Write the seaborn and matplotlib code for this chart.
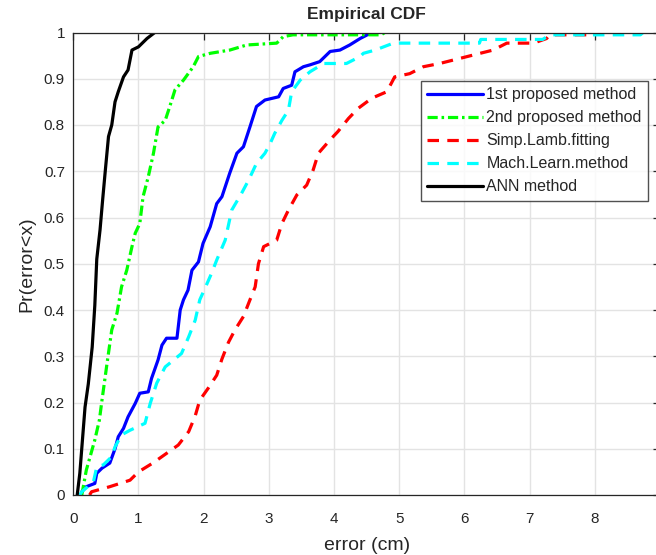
import numpy as np
import pandas as pd
import matplotlib
matplotlib.use("Agg")
import matplotlib.pyplot as plt
import seaborn as sns

# ---------------- data ----------------
ann_x = [0.06, 0.10, 0.18, 0.23, 0.29, 0.33, 0.36, 0.41, 0.45, 0.49, 0.54, 0.59,
         0.64, 0.69, 0.77, 0.84, 0.90, 1.00, 1.13, 1.25]
ann_p = [0.0, 0.047, 0.19, 0.24, 0.32, 0.41, 0.51, 0.573, 0.638, 0.70, 0.775, 0.80,
         0.85, 0.872, 0.904, 0.919, 0.962, 0.969, 0.987, 1.0]

m2_x = [0.13, 0.20, 0.33, 0.40, 0.44, 0.51, 0.59, 0.67, 0.74, 0.82, 0.90, 0.95,
        1.02, 1.07, 1.15, 1.23, 1.30, 1.41, 1.48, 1.56, 1.69, 1.84, 1.92, 2.10,
        2.40, 2.66, 3.12, 3.22, 3.37, 4.72, 4.78]
m2_p = [0.0, 0.054, 0.119, 0.162, 0.205, 0.277, 0.357, 0.393, 0.45, 0.486, 0.537, 0.566,
        0.587, 0.645, 0.688, 0.739, 0.796, 0.81, 0.84, 0.876, 0.897, 0.926, 0.948, 0.955,
        0.962, 0.973, 0.977, 0.991, 0.995, 0.995, 1.0]

m1_x = [0.12, 0.13, 0.20, 0.33, 0.36, 0.44, 0.56, 0.64, 0.69, 0.77, 0.84, 0.95, 1.02,
        1.15, 1.20, 1.30, 1.36, 1.43, 1.59, 1.64, 1.69, 1.76, 1.82, 1.92, 1.99, 2.10,
        2.20, 2.28, 2.40, 2.51, 2.61, 2.71, 2.81, 2.94, 3.15, 3.22, 3.35, 3.40, 3.53,
        3.63, 3.78, 3.94, 4.09, 4.24, 4.40, 4.58]
m1_p = [0.0, 0.007, 0.018, 0.025, 0.047, 0.058, 0.069, 0.10, 0.126, 0.144, 0.169, 0.198, 0.22,
        0.223, 0.252, 0.292, 0.324, 0.339, 0.339, 0.40, 0.422, 0.443, 0.486, 0.504, 0.544, 0.58,
        0.63, 0.645, 0.696, 0.739, 0.753, 0.796, 0.84, 0.854, 0.861, 0.879, 0.886, 0.915, 0.926,
        0.93, 0.937, 0.959, 0.962, 0.973, 0.987, 1.0]

ml_x = [0.10, 0.13, 0.31, 0.36, 0.46, 0.59, 0.64, 0.74, 0.87, 1.10, 1.18, 1.28, 1.41,
        1.48, 1.66, 1.77, 1.87, 1.94, 2.02, 2.12, 2.20, 2.33, 2.43, 2.58, 2.69, 2.81,
        2.94, 3.02, 3.09, 3.20, 3.30, 3.35, 3.48, 3.63, 3.84, 4.19, 4.40, 4.45, 4.63,
        4.91, 6.23, 6.25, 7.20, 7.31, 8.70, 8.74]
ml_p = [0.0, 0.007, 0.029, 0.061, 0.065, 0.083, 0.104, 0.13, 0.14, 0.155, 0.198, 0.242, 0.277,
        0.285, 0.306, 0.342, 0.378, 0.422, 0.447, 0.479, 0.508, 0.551, 0.616, 0.652, 0.681, 0.717,
        0.739, 0.76, 0.782, 0.81, 0.832, 0.872, 0.897, 0.915, 0.933, 0.933, 0.948, 0.955, 0.962,
        0.977, 0.977, 0.985, 0.985, 0.995, 0.995, 1.0]

sl_x = [0.25, 0.28, 0.56, 0.87, 1.00, 1.23, 1.43, 1.61, 1.77, 1.87, 1.94, 2.07, 2.20, 2.28,
        2.38, 2.48, 2.61, 2.71, 2.79, 2.84, 2.92, 3.12, 3.20, 3.30, 3.43, 3.58, 3.68,
        3.76, 3.94, 4.06, 4.22, 4.37, 4.58, 4.81, 4.93, 5.16, 5.37, 5.62, 5.93, 6.24,
        6.44, 6.65, 7.06, 7.26, 7.31, 7.95, 7.98]
sl_p = [0.0, 0.007, 0.018, 0.032, 0.05, 0.07, 0.09, 0.108, 0.137, 0.171, 0.205, 0.231, 0.259, 0.294,
        0.33, 0.357, 0.386, 0.422, 0.45, 0.50, 0.537, 0.551, 0.587, 0.616, 0.649, 0.67, 0.703,
        0.739, 0.768, 0.786, 0.814, 0.836, 0.858, 0.872, 0.904, 0.911, 0.926, 0.933, 0.944, 0.955,
        0.962, 0.977, 0.977, 0.987, 0.995, 0.995, 1.0]

labels = ["1st proposed method", "2nd proposed method", "Simp.Lamb.fitting",
          "Mach.Learn.method", "ANN method"]
xticks = [0, 1, 2, 3, 4, 5, 6, 7, 8, 9]
yticks = [0, 0.1, 0.2, 0.3, 0.4, 0.5, 0.6, 0.7, 0.8, 0.9, 1]
ytick_labels = ["0", "0.1", "0.2", "0.3", "0.4", "0.5", "0.6", "0.7", "0.8", "0.9", "1"]

series = [
    (labels[0], m1_x, m1_p, "#0000ff", None),
    (labels[1], m2_x, m2_p, "#00ff00", (3.2, 1.2, 0.8, 1.2)),
    (labels[2], sl_x, sl_p, "#ff0000", (3.6, 2.6)),
    (labels[3], ml_x, ml_p, "#00ffff", (3.6, 2.6)),
    (labels[4], ann_x, ann_p, "#000000", None),
]

# ---------------- styling ----------------
sns.set_style("white")
plt.rcParams["font.family"] = ["Liberation Sans", "DejaVu Sans"]

fig = plt.figure(figsize=(6.56, 5.55), dpi=100)
W, H = 656, 555
x0, x1, y0, y1 = 73.3, 660.0, 495.0, 32.5
ax = fig.add_axes([x0 / W, 1 - y0 / H, (x1 - x0) / W, (y0 - y1) / H])

for name, xs, ps, col, dash in series:
    df = pd.DataFrame({"x": xs, "p": ps})
    sns.lineplot(data=df, x="x", y="p", ax=ax, color=col, linewidth=2.3,
                 sort=False, estimator=None, label=name)
    line = ax.lines[-1]
    if dash is not None:
        line.set_dashes(dash)
        line.set_dash_capstyle("butt")

ax.set_xlim(0, 9)
ax.set_ylim(0, 1)
ax.set_xticks(xticks)
ax.set_yticks(yticks)
ax.set_yticklabels(ytick_labels)
ax.grid(True, color="#e3e3e3", linewidth=1.0)
ax.set_axisbelow(True)
for s in ax.spines.values():
    s.set_color("#262626")
    s.set_linewidth(0.9)
ax.tick_params(direction="in", length=5, width=0.9, top=True, right=True,
               labelsize=11, colors="#262626")
ax.tick_params(axis="y", pad=6)
ax.tick_params(axis="x", pad=12)

ax.set_title("Empirical CDF", fontsize=12.5, fontweight="bold", pad=10)
ax.set_xlabel("error (cm)", fontsize=14, color="#262626", labelpad=8)
ax.set_ylabel("Pr(error<x)", fontsize=14, color="#262626", labelpad=6)

leg = ax.legend(loc="upper left", bbox_to_anchor=(421 / W, 1 - 81 / H),
                bbox_transform=fig.transFigure, borderaxespad=0, fontsize=11.5,
                frameon=True, fancybox=False, edgecolor="#262626",
                handlelength=3.5, handletextpad=0.2, labelspacing=0.5,
                borderpad=0.4)
leg.get_frame().set_linewidth(1.0)

fig.savefig("out.png", dpi=100)
